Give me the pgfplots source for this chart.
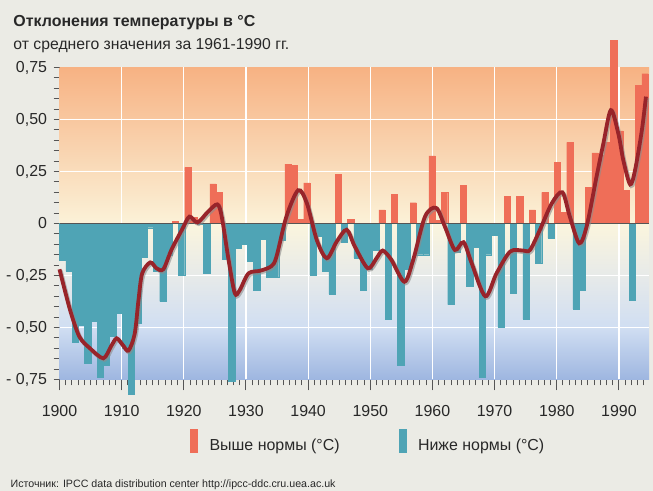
\documentclass[border=0pt]{standalone}
\usepackage{pgfplots}
\usepackage{pgfplotstable}
\pgfplotsset{compat=1.18}
\usepackage{fontspec}
\setmainfont{Liberation Sans}
\definecolor{bgc}{RGB}{235,235,229}
\definecolor{redbar}{RGB}{239,110,88}
\definecolor{bluebar}{RGB}{79,164,181}
\definecolor{curvec}{RGB}{152,36,42}
\definecolor{axisgrey}{RGB}{85,85,85}
\definecolor{textgrey}{RGB}{40,40,40}
\definecolor{g1}{RGB}{247,178,131}
\definecolor{g2}{RGB}{251,242,216}
\definecolor{g3}{RGB}{251,245,221}
\definecolor{g4}{RGB}{231,234,233}
\definecolor{g5}{RGB}{208,222,242}
\definecolor{g6}{RGB}{158,182,224}

\pgfplotstableread{
year val
1900 -0.176
1901 -0.23
1902 -0.57
1903 -0.49
1904 -0.67
1905 -0.47
1906 -0.74
1907 -0.68
1908 -0.54
1909 -0.43
1910 -0.60
1911 -0.82
1912 -0.48
1913 -0.16
1914 -0.02
1915 -0.23
1916 -0.375
1917 -0.15
1918 0.01
1919 -0.25
1920 0.27
1921 0.03
1922 -0.005
1923 -0.24
1924 0.19
1925 0.15
1926 -0.17
1927 -0.76
1928 -0.12
1929 -0.10
1930 -0.18
1931 -0.32
1932 -0.075
1933 -0.26
1934 -0.26
1935 -0.08
1936 0.285
1937 0.28
1938 0.02
1939 0.195
1940 -0.25
1941 -0.06
1942 -0.23
1943 -0.34
1944 0.235
1945 -0.09
1946 0.02
1947 -0.165
1948 -0.32
1949 -0.22
1950 -0.13
1951 0.065
1952 -0.46
1953 0.14
1954 -0.68
1955 -0.22
1956 0.10
1957 -0.15
1958 -0.15
1959 0.325
1960 0.015
1961 0.15
1962 -0.39
1963 -0.14
1964 0.185
1965 -0.30
1966 -0.115
1967 -0.74
1968 -0.15
1969 -0.055
1970 -0.50
1971 0.13
1972 -0.335
1973 0.13
1974 -0.46
1975 0.065
1976 -0.19
1977 0.15
1978 -0.07
1979 0.295
1980 0.055
1981 0.39
1982 -0.41
1983 -0.32
1984 0.175
1985 0.34
1986 0.33
1987 0.39
1988 0.88
1989 0.445
1990 0.16
1991 -0.37
1992 0.665
1993 0.72
}\bardata

\pgfplotstableread{
t v
1900.0 -0.22
1901.7 -0.416
1903.2 -0.544
1904.9 -0.60
1907.05 -0.648
1908.3 -0.59
1909.2 -0.552
1910.2 -0.585
1911.1 -0.611
1912.1 -0.53
1912.7 -0.37
1913.3 -0.24
1914.6 -0.187
1915.6 -0.215
1916.7 -0.22
1918.0 -0.127
1919.7 -0.03
1920.9 0.033
1922.2 0.005
1923.9 0.057
1925.4 0.092
1926.1 0.033
1927.2 -0.175
1928.2 -0.335
1929.0 -0.32
1930.4 -0.24
1932.3 -0.227
1934.1 -0.205
1934.9 -0.16
1936.5 0.033
1938.4 0.16
1939.8 0.097
1941.4 -0.08
1943.0 -0.167
1944.6 -0.087
1946.2 -0.03
1947.5 -0.11
1949.6 -0.215
1951.0 -0.167
1952.0 -0.13
1953.4 -0.175
1955.5 -0.28
1956.9 -0.175
1958.8 0.033
1960.6 0.075
1962.0 -0.015
1963.6 -0.127
1965.0 -0.09
1966.3 -0.19
1968.5 -0.35
1970.3 -0.24
1972.5 -0.135
1974.6 -0.13
1975.7 -0.127
1977.3 -0.03
1979.2 0.097
1980.9 0.15
1982.1 0.033
1983.6 -0.095
1984.8 -0.015
1986.4 0.225
1987.5 0.385
1988.7 0.545
1989.9 0.433
1990.7 0.305
1991.8 0.188
1992.6 0.257
1993.7 0.45
1994.35 0.61
}\curvedata

\begin{document}
\begin{tikzpicture}
\fill[bgc] (0bp,0bp) rectangle (653bp,491bp);
\useasboundingbox (0bp,0bp) rectangle (653bp,491bp);
\node[anchor=base west, inner sep=0pt, text=textgrey, font=\bfseries\fontsize{16}{18}\selectfont] at (13.3bp,464.3bp) {Отклонения температуры в °C};
\node[anchor=base west, inner sep=0pt, text=textgrey, font=\fontsize{15.8}{17}\selectfont] at (13.3bp,441bp) {от среднего значения за 1961-1990 гг.};
\node[anchor=base west, inner sep=0pt, text=textgrey, font=\fontsize{10.7}{12}\selectfont] at (10.4bp,4bp) {Источник: IPCC data distribution center http://ipcc-ddc.cru.uea.ac.uk};
\begin{axis}[
  at={(59.5bp,111.5bp)}, anchor=south west,
  scale only axis, width=589.5bp, height=312bp,
  xmin=1900, xmax=1994.84, ymin=-0.75, ymax=0.75,
  clip=false,
  axis x line*=bottom, axis y line*=left,
  axis line style={draw=axisgrey, line width=1.3bp},
  xtick={1900,1910,...,1990},
  xticklabels={1900,1910,1920,1930,1940,1950,1960,1970,1980,1990},
  minor xtick={1901,1902,...,1994},
  extra x ticks={1900,1910,...,1990}, extra x tick labels={},
  extra x tick style={major tick length=11bp},
  ytick={-0.75,-0.5,-0.25,0,0.25,0.5,0.75},
  yticklabels={{- 0,75},{- 0,50},{- 0,25},0,{0,25},{0,50},{0,75}},
  minor ytick={-0.7,-0.65,-0.6,-0.55,-0.45,-0.4,-0.35,-0.3,-0.2,-0.15,-0.1,-0.05,0.05,0.1,0.15,0.2,0.3,0.35,0.4,0.45,0.55,0.6,0.65,0.7},
  tick align=outside,
  major tick length=6bp, minor tick length=6bp,
  tick style={axisgrey, line width=1bp},
  ticklabel style={font=\fontsize{16}{16}\selectfont, text=textgrey},
  xticklabel style={yshift=-16bp},
  yticklabel style={xshift=-3bp},
  legend columns=2,
  legend style={at={(0.2214,-0.1987)}, anchor=west, draw=none, fill=none, inner sep=0pt,
    font=\fontsize{16}{16}\selectfont, text=textgrey, column sep=10bp,
    /tikz/every even column/.append style={column sep=57bp}},
  legend cell align=left,
]
\fill[top color=g1, bottom color=g2] (axis cs:1900,0) rectangle (axis cs:1994.84,0.75);
\fill[top color=g3, bottom color=g4] (axis cs:1900,-0.25) rectangle (axis cs:1994.84,0);
\fill[top color=g4, bottom color=g5] (axis cs:1900,-0.5) rectangle (axis cs:1994.84,-0.25);
\fill[top color=g5, bottom color=g6] (axis cs:1900,-0.75) rectangle (axis cs:1994.84,-0.5);
\pgfplotsinvokeforeach{1910,1920,...,1990}{\draw[white, line width=1.2bp] (axis cs:#1,-0.75) -- (axis cs:#1,0.75);}
\pgfplotsinvokeforeach{-0.5,-0.25,0.25,0.5}{\draw[white, line width=1.2bp] (axis cs:1900,#1) -- (axis cs:1994.84,#1);}
\addplot[forget plot, ybar, bar width=1.0074, bar shift=0pt, fill=redbar, draw=redbar, line width=0.3bp,
  x filter/.expression={1900+(x-1900+0.5)*1.0074}, y filter/.expression={y>0 ? y : nan}]
  table[x=year,y=val]{\bardata};
\addplot[forget plot, ybar, bar width=1.0074, bar shift=0pt, fill=bluebar, draw=bluebar, line width=0.3bp,
  x filter/.expression={1900+(x-1900+0.5)*1.0074}, y filter/.expression={y<0 ? y : nan}]
  table[x=year,y=val]{\bardata};
\draw[axisgrey, line width=1.5bp] (axis cs:1900,0) -- (axis cs:1994.84,0);
\addplot[forget plot, smooth, no marks, draw=black!45, opacity=0.6, line width=4bp, xshift=1.2bp, yshift=-1.5bp] table[x=t,y=v]{\curvedata};
\addplot[forget plot, smooth, no marks, draw=curvec, line width=3.8bp] table[x=t,y=v]{\curvedata};
\addlegendimage{legend image code/.code={\fill[redbar] (0bp,-7bp) rectangle (7bp,16bp);}}
\addlegendentry{Выше нормы (°C)}
\addlegendimage{legend image code/.code={\fill[bluebar] (0bp,-7bp) rectangle (7bp,16bp);}}
\addlegendentry{Ниже нормы (°C)}
\end{axis}
\end{tikzpicture}
\end{document}
